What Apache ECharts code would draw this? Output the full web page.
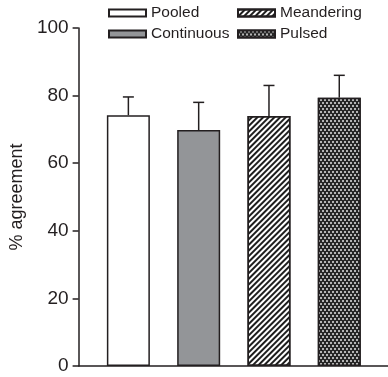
<!DOCTYPE html>
<html>
<head>
<meta charset="utf-8">
<script src="https://cdn.jsdelivr.net/npm/echarts@6/dist/echarts.min.js"></script>
<style>
  html, body { margin: 0; padding: 0; background: #fff; }
  #chart { width: 388px; height: 377px; }
</style>
</head>
<body>
<div id="chart"></div>
<script>
// bar groups, mean % agreement and upper error
const groups = ['Pooled', 'Continuous', 'Meandering', 'Pulsed'];
const positions = [1, 2, 3, 4];
const means = [74.2, 69.8, 74.0, 79.4];
const upper = [79.6, 78.0, 83.0, 86.0];

const INK = '#231f20';
const FONT = '"Liberation Sans", Arial, sans-serif';

const fills = {
    Pooled: { color: '#ffffff' },
    Continuous: { color: '#939598' },
    Meandering: {
        color: '#ffffff',
        decal: { symbol: 'rect', symbolSize: 1, dashArrayX: [1, 0], dashArrayY: [1.8, 1.8], rotation: -Math.PI / 4, color: '#1e1e1e' }
    },
    Pulsed: {
        color: '#262626',
        decal: { symbol: 'rect', symbolSize: 1, dashArrayX: [[1.5, 1.5], [0, 1.5, 1.5, 0]], dashArrayY: [1.5, 0.5], color: '#b4b4b4' }
    }
};

const chart = echarts.init(document.getElementById('chart'), null, { renderer: 'canvas' });

const barSeries = groups.map((g, i) => ({
    name: g,
    type: 'bar',
    barWidth: 43,
    barGap: '-100%',
    data: [[positions[i], means[i]]],
    itemStyle: Object.assign({ borderColor: INK, borderWidth: 1.5 }, fills[g]),
    emphasis: { disabled: true },
    z: 2
}));

const errSeries = {
    type: 'custom',
    data: positions.map((p, i) => [p, means[i], upper[i]]),
    renderItem: (params, api) => {
        const base = api.coord([api.value(0), api.value(1)]);
        const top = api.coord([api.value(0), api.value(2)]);
        const half = 5.5;
        const style = { stroke: INK, lineWidth: 1.5 };
        return {
            type: 'group',
            children: [
                { type: 'line', shape: { x1: base[0], y1: base[1], x2: top[0], y2: top[1] }, style },
                { type: 'line', shape: { x1: top[0] - half, y1: top[1], x2: top[0] + half, y2: top[1] }, style }
            ]
        };
    },
    z: 3
};

const legendBase = {
    orient: 'vertical',
    top: 5,
    padding: 0,
    icon: 'rect',
    itemWidth: 37, itemHeight: 7, itemGap: 5,
    textStyle: { fontFamily: FONT, fontSize: 15.5, color: INK },
    selectedMode: false
};

chart.setOption({
    animation: false,
    legend: [
        Object.assign({ data: ['Pooled', 'Continuous'], left: 108 }, legendBase),
        Object.assign({ data: ['Meandering', 'Pulsed'], left: 237 }, legendBase)
    ],
    grid: { left: 77, right: 0, top: 28, bottom: 11, containLabel: false },
    xAxis: {
        type: 'value',
        min: 0.292,
        max: 4.693,
        axisLine: { show: true, lineStyle: { color: INK, width: 1.5 } },
        axisTick: { show: false },
        axisLabel: { show: false },
        splitLine: { show: false }
    },
    yAxis: {
        type: 'value',
        min: 0, max: 100, interval: 20,
        name: '% agreement',
        nameLocation: 'middle',
        nameGap: 50,
        nameTextStyle: { fontFamily: FONT, fontSize: 18, color: INK },
        axisLine: { show: true, lineStyle: { color: INK, width: 1.5 } },
        axisTick: { show: true, inside: false, length: 6, lineStyle: { color: INK, width: 1.5 } },
        axisLabel: { fontFamily: FONT, fontSize: 19, color: INK, margin: 10 },
        splitLine: { show: false }
    },
    series: [...barSeries, errSeries]
});
</script>
</body>
</html>
